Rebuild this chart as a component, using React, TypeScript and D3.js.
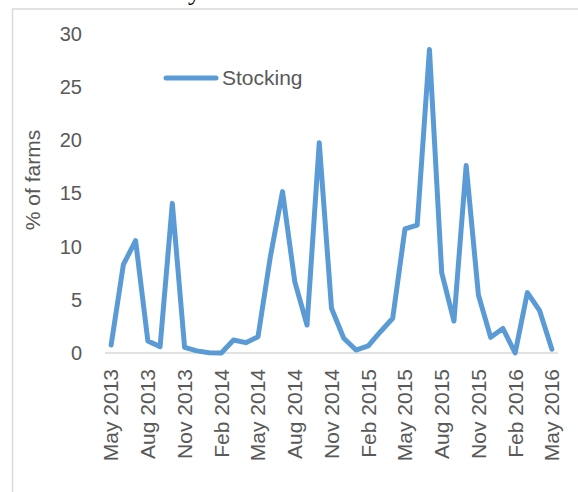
import React from "react";
import * as d3 from "d3";

const months: string[] = [
  "May 2013","Jun 2013","Jul 2013","Aug 2013","Sep 2013","Oct 2013","Nov 2013","Dec 2013",
  "Jan 2014","Feb 2014","Mar 2014","Apr 2014","May 2014","Jun 2014","Jul 2014","Aug 2014",
  "Sep 2014","Oct 2014","Nov 2014","Dec 2014","Jan 2015","Feb 2015","Mar 2015","Apr 2015",
  "May 2015","Jun 2015","Jul 2015","Aug 2015","Sep 2015","Oct 2015","Nov 2015","Dec 2015",
  "Jan 2016","Feb 2016","Mar 2016","Apr 2016","May 2016",
];
const stocking: number[] = [
  0.75, 8.3, 10.55, 1.13, 0.6, 14.05, 0.53, 0.2,
  0.03, 0.0, 1.22, 0.97, 1.53, 9.0, 15.15, 6.7,
  2.63, 19.75, 4.2, 1.38, 0.28, 0.66, 2.0, 3.26,
  11.65, 12.0, 28.5, 7.55, 3.0, 17.6, 5.45, 1.47,
  2.3, 0.0, 5.67, 3.97, 0.35,
];
const xTickLabels: string[] = [
  "May 2013","Aug 2013","Nov 2013","Feb 2014","May 2014","Aug 2014","Nov 2014",
  "Feb 2015","May 2015","Aug 2015","Nov 2015","Feb 2016","May 2016",
];
const yTicks: number[] = [0, 5, 10, 15, 20, 25, 30];
const seriesName = "Stocking";
const yAxisTitle = "% of farms";

export default function App() {
  const W = 578, H = 492;
  const x = d3.scalePoint<string>().domain(months).range([105, 558]).padding(0.5);
  const y = d3.scaleLinear().domain([0, 30]).range([353, 33.5]);
  const line = d3
    .line<number>()
    .x((_, i) => x(months[i]) as number)
    .y((d) => y(d));
  const font = "'Liberation Sans', Arial, sans-serif";
  const grey = "#595959";
  return (
    <svg
      width={W}
      height={H}
      style={{ position: "absolute", left: 0, top: 0, background: "#fff" }}
    >
      <text x={188} y={0} fontFamily="'Liberation Serif', 'Times New Roman', serif" fontSize={26} fill="#000">
        year and month
      </text>
      <rect x={12.5} y={9} width={600} height={520} fill="none" stroke="#D9D9D9" strokeWidth={1.5} />
      <line x1={105} x2={558} y1={y(0)} y2={y(0)} stroke="#D9D9D9" strokeWidth={1.5} />
      {yTicks.map((t) => (
        <text
          key={t}
          x={82}
          y={y(t)}
          dy="0.35em"
          textAnchor="end"
          fontFamily={font}
          fontSize={20}
          fill={grey}
        >
          {t}
        </text>
      ))}
      <text
        transform={`translate(33,180) rotate(-90)`}
        textAnchor="middle"
        dy="0.35em"
        fontFamily={font}
        fontSize={21}
        fill={grey}
      >
        {yAxisTitle}
      </text>
      {xTickLabels.map((m) => (
        <text
          key={m}
          transform={`translate(${x(m)},369) rotate(-90)`}
          textAnchor="end"
          dy="0.35em"
          fontFamily={font}
          fontSize={21}
          fill={grey}
        >
          {m}
        </text>
      ))}
      <path
        d={line(stocking) || ""}
        fill="none"
        stroke="#5B9BD5"
        strokeWidth={5}
        strokeLinejoin="round"
        strokeLinecap="round"
      />
      <line x1={166} x2={216} y1={78} y2={78} stroke="#5B9BD5" strokeWidth={5} strokeLinecap="round" />
      <text x={222} y={78} dy="0.35em" fontFamily={font} fontSize={21} fill={grey}>
        {seriesName}
      </text>
    </svg>
  );
}
